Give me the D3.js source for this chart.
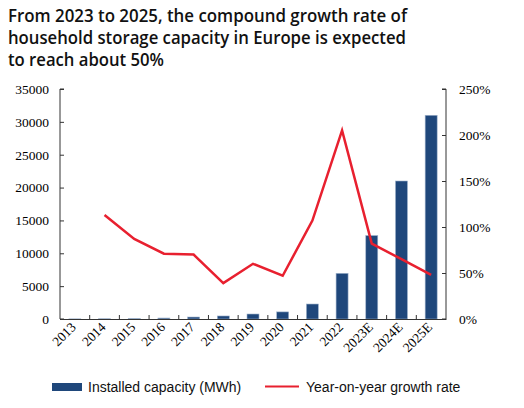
<!DOCTYPE html>
<html><head><meta charset="utf-8">
<script src="https://cdn.jsdelivr.net/npm/d3@7"></script>
<style>body{margin:0;background:#fff;}svg{display:block;}</style>
</head><body>
<script>
const categories = ["2013","2014","2015","2016","2017","2018","2019","2020","2021","2022","2023E","2024E","2025E"];
const capacity = [20, 40, 80, 150, 300, 460, 760, 1080, 2280, 6950, 12700, 21000, 31000];
const growth = [null, 1.13, 0.87, 0.71, 0.70, 0.39, 0.60, 0.47, 1.07, 2.05, 0.82, 0.65, 0.48];
const leftTicks = [0,5000,10000,15000,20000,25000,30000,35000];
const rightTicks = [0,0.5,1,1.5,2,2.5];
const titleLines = ["From 2023 to 2025, the compound growth rate of","household storage capacity in Europe is expected","to reach about 50%"];

const W=524,H=408;
const svg=d3.select("body").append("svg").attr("width",W).attr("height",H);
const m={l:60,r:446,t:89,b:319};
const xb=d3.scaleBand().domain(categories).range([m.l,m.r]);
const y=d3.scaleLinear().domain([0,35000]).range([m.b,m.t]);
const y2=d3.scaleLinear().domain([0,2.5]).range([m.b,m.t]);

const titleWidths=[399,398,156];
svg.selectAll("text.title").data(titleLines).join("text")
 .attr("x",8).attr("y",(d,i)=>22+i*22)
 .style("font-family","'Open Sans', sans-serif").attr("font-weight",600).attr("font-size",18.5)
 .attr("textLength",(d,i)=>titleWidths[i]).attr("lengthAdjust","spacingAndGlyphs")
 .attr("fill","#111").text(d=>d);

// bars
svg.selectAll("rect.bar").data(categories).join("rect")
 .attr("x",d=>xb(d)+xb.bandwidth()/2-6).attr("width",12)
 .attr("y",(d,i)=>y(capacity[i])).attr("height",(d,i)=>m.b-y(capacity[i]))
 .attr("fill","#1f477b").attr("stroke","#9fb3cc").attr("stroke-width",0.6);

// axes
const serif="'Liberation Serif', 'Times New Roman', serif";
const ax=svg.append("g").attr("transform",`translate(${m.l},0)`)
 .call(d3.axisLeft(y).tickValues(leftTicks).tickSize(-4).tickPadding(11).tickFormat(d3.format("d")));
const ax2=svg.append("g").attr("transform",`translate(${m.r},0)`)
 .call(d3.axisRight(y2).tickValues(rightTicks).tickSize(-4).tickPadding(13).tickFormat(d3.format(".0%")));
const bx=svg.append("g").attr("transform",`translate(0,${m.b})`)
 .call(d3.axisBottom(xb).tickSize(0).tickFormat(""));
svg.selectAll("line.bt").data(d3.range(1,categories.length)).join("line")
 .attr("x1",i=>m.l+i*xb.step()).attr("x2",i=>m.l+i*xb.step())
 .attr("y1",m.b).attr("y2",m.b-4).attr("stroke","#333");
[ax,ax2,bx].forEach(g=>{g.attr("font-family",null).attr("font-size",null);g.selectAll("path,line").attr("stroke","#333");g.selectAll("text").style("font-family",serif).style("font-size","13.5px").attr("fill","#000");});
ax2.select(".domain").attr("d",`M-4,${m.t}H0V${m.b}H-4`);
ax.select(".domain").attr("d",`M4,${m.t}H0V${m.b}H4`);

svg.selectAll("text.xl").data(categories).join("text")
 .attr("transform",d=>`translate(${xb(d)+xb.bandwidth()/2+2},${m.b+9}) rotate(-45)`)
 .attr("text-anchor","end").style("font-family",serif).style("font-size","13.5px").attr("fill","#000")
 .text(d=>d);

// line
const pts=categories.map((c,i)=>({c,v:growth[i]})).filter(d=>d.v!=null);
svg.append("path").datum(pts)
 .attr("d",d3.line().x(d=>xb(d.c)+xb.bandwidth()/2).y(d=>y2(d.v)))
 .attr("fill","none").attr("stroke","#e8202f").attr("stroke-width",2.5);

// legend
const lg=svg.append("g");
lg.append("rect").attr("x",52).attr("y",383).attr("width",30).attr("height",8).attr("fill","#1f477b");
lg.append("text").attr("x",88).attr("y",392).style("font-family","'Liberation Sans', Arial, sans-serif").attr("font-size",14).attr("fill","#111").text("Installed capacity (MWh)");
lg.append("line").attr("x1",265).attr("x2",299).attr("y1",386.5).attr("y2",386.5).attr("stroke","#e8202f").attr("stroke-width",2);
lg.append("text").attr("x",306).attr("y",392).style("font-family","'Liberation Sans', Arial, sans-serif").attr("font-size",14).attr("fill","#111").text("Year-on-year growth rate");
</script>
</body></html>
